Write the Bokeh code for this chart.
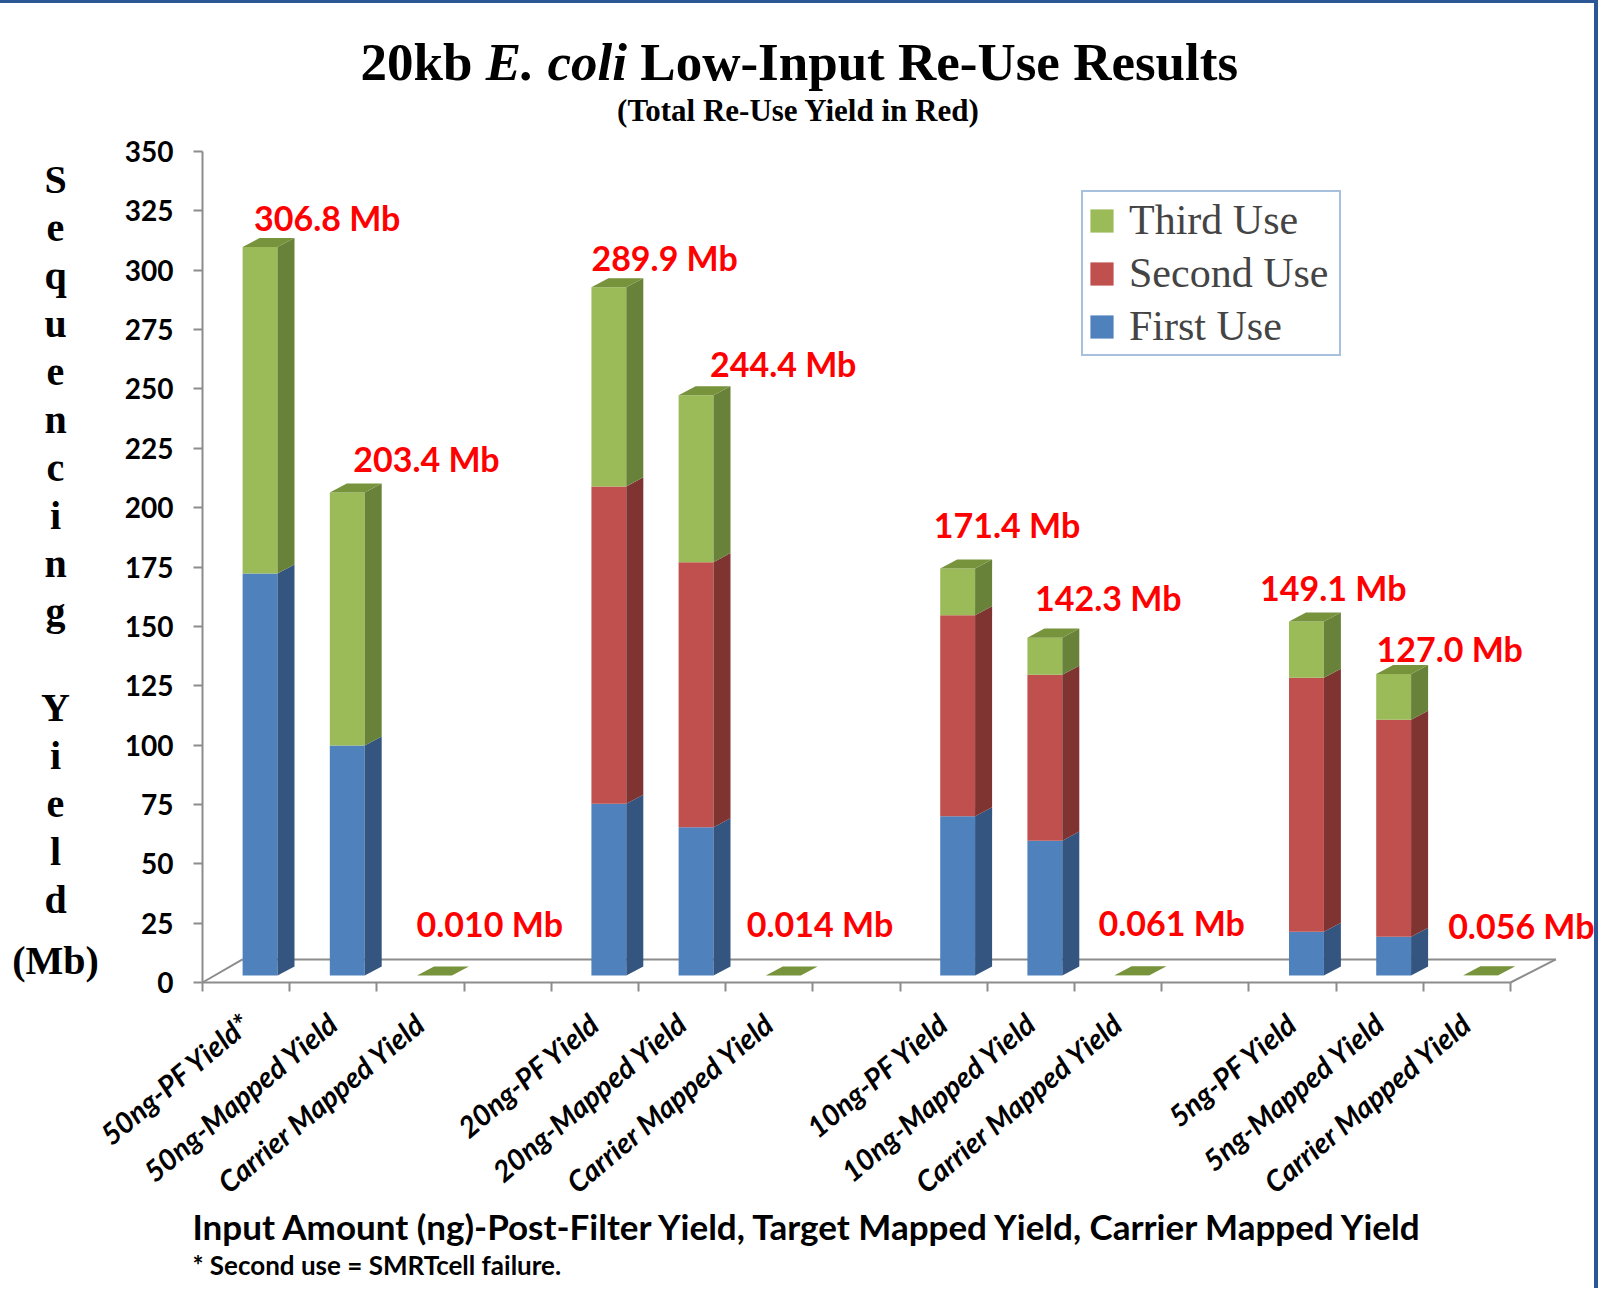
from bokeh.plotting import figure
from bokeh.models import (Range1d, FixedTicker, Label, LabelSet, ColumnDataSource,
                          Legend, LegendItem, LinearAxis)
from bokeh.core.properties import value
from bokeh.embed import file_html
from bokeh.resources import INLINE

# ---------------- data ----------------
categories = ["50ng-PF Yield*", "50ng-Mapped Yield", "Carrier Mapped Yield",
              "20ng-PF Yield", "20ng-Mapped Yield", "Carrier Mapped Yield",
              "10ng-PF Yield", "10ng-Mapped Yield", "Carrier Mapped Yield",
              "5ng-PF Yield", "5ng-Mapped Yield", "Carrier Mapped Yield"]
first_use = [169.3, 96.9, 0.0, 72.3, 62.4, 0.0, 67.1, 56.8, 0.0, 18.4, 16.3, 0.0]
second_use = [0.0, 0.0, 0.0, 133.7, 111.7, 0.0, 84.6, 69.9, 0.0, 107.0, 91.4, 0.0]
total_yield = [306.8, 203.4, 0.010, 289.9, 244.4, 0.014, 171.4, 142.3, 0.061, 149.1, 127.0, 0.056]
total_labels = ["306.8 Mb", "203.4 Mb", "0.010 Mb", "289.9 Mb", "244.4 Mb", "0.014 Mb",
                "171.4 Mb", "142.3 Mb", "0.061 Mb", "149.1 Mb", "127.0 Mb", "0.056 Mb"]
y_ticks = [0, 25, 50, 75, 100, 125, 150, 175, 200, 225, 250, 275, 300, 325, 350]
series_names = ["First Use", "Second Use", "Third Use"]

title_parts = ["20kb", "E. coli", "Low-Input Re-Use Results"]
subtitle = "(Total Re-Use Yield in Red)"
ylabel_lines = ["S", "e", "q", "u", "e", "n", "c", "i", "n", "g", "",
                "Y", "i", "e", "l", "d", "(Mb)"]
xlabel = "Input Amount (ng)-Post-Filter Yield, Target Mapped Yield, Carrier Mapped Yield"
footnote = "* Second use = SMRTcell failure."

third_use = [round(t - f - s, 3) for t, f, s in zip(total_yield, first_use, second_use)]

# ---------------- layout ----------------
W, H = 1598, 1288
TOPB = 3                      # css top border height
X0, Y0 = 202.0, 982.0         # page pixel of data (0, 0)
PX = 87.2                     # px per x unit
PY = 831.0 / 350.0            # px per y unit


def dxp(px):
    return (px - X0) / PX


def dyp(py):
    return (Y0 - py) / PY


n = len(categories)
slot_center = [i + i // 3 + 0.5 for i in range(n)]
boundaries = list(range(16))

LIFT, DX, DY, OFF, BW = 2.95, 0.195, 3.8, 0.16, 0.40
xc = [c + OFF for c in slot_center]

label_dx = [0.091, 0.229, -0.045, -0.040, 0.320, -0.258, -0.113, 0.048, -0.225, -0.372, -0.037, -0.215]
label_dy = [15.5, 17.2, 24.8, 15.6, 16.3, 24.8, 21.6, 19.7, 25.2, 17.2, 13.8, 23.9]

GRAY = "#8C8C8C"
front_col = {"First Use": "#4F81BD", "Second Use": "#C0504D", "Third Use": "#9BBB59"}
side_col = {"First Use": "#34557F", "Second Use": "#7F3432", "Third Use": "#68823A"}
TOP_COL = "#77933C"

p = figure(width=W, height=H,
           x_range=Range1d(dxp(0), dxp(W)),
           y_range=Range1d(dyp(TOPB + H), dyp(TOPB)),
           x_axis_location=None, y_axis_location=None,
           output_backend="svg", toolbar_location=None, min_border=0)
p.title.visible = False
p.xgrid.visible = False
p.ygrid.visible = False
p.outline_line_color = None
p.background_fill_color = "white"
p.border_fill_color = "white"
p.styles = {"border-top": "3px solid #2B5797", "border-right": "4px solid #2B5797"}

# floor
p.line([0.459, 15.52], [9.7, 9.7], line_color=GRAY, line_width=2)
p.line([0, 0.459], [0, 9.7], line_color=GRAY, line_width=2)
p.line([15, 15.52], [0, 9.7], line_color=GRAY, line_width=2)

# bars
renderers = {}
bottom = [LIFT] * n
for name, vals in zip(series_names, [first_use, second_use, third_use]):
    top = [b + v for b, v in zip(bottom, vals)]
    src = ColumnDataSource(dict(x=xc, bottom=bottom, top=top))
    r = p.vbar(x="x", bottom="bottom", top="top", width=BW, source=src,
               fill_color=front_col[name], line_color=None)
    renderers[name] = r
    idx = [i for i in range(n) if vals[i] >= 1.0]
    sxs = [[xc[i] + BW / 2, xc[i] + BW / 2 + DX, xc[i] + BW / 2 + DX, xc[i] + BW / 2] for i in idx]
    sys = [[bottom[i], bottom[i] + DY, top[i] + DY, top[i]] for i in idx]
    p.patches(sxs, sys, fill_color=side_col[name], line_color=None)
    bottom = top

txs = [[x - BW / 2, x + BW / 2, x + BW / 2 + DX, x - BW / 2 + DX] for x in xc]
tys = [[t, t, t + DY, t + DY] for t in bottom]
p.patches(txs, tys, fill_color=TOP_COL, line_color=None)

# total labels
lab_src = ColumnDataSource(dict(
    x=[c + d for c, d in zip(slot_center, label_dx)],
    y=[t + d for t, d in zip(total_yield, label_dy)],
    text=total_labels))
p.add_layout(LabelSet(x="x", y="y", text="text", source=lab_src, text_color="#FF0000",
                      text_font=value("Lato"), text_font_style="bold",
                      text_font_size="34px", text_baseline="middle", text_align="left"))

# axes (fixed at the data origin)
xa = LinearAxis(fixed_location=0, bounds=(0, 15),
                ticker=FixedTicker(ticks=slot_center, minor_ticks=boundaries))
xa.major_label_overrides = {c: lab for c, lab in zip(slot_center, categories)}
xa.major_label_orientation = 0.70
xa.major_label_text_font = "Lato"
xa.major_label_text_font_style = "bold italic"
xa.major_label_text_font_size = "29px"
xa.major_label_text_color = "black"
xa.major_label_standoff = 27
xa.major_tick_line_color = None
xa.major_tick_out = 0
xa.major_tick_in = 0
xa.minor_tick_line_color = GRAY
xa.minor_tick_line_width = 2
xa.minor_tick_out = 9
xa.minor_tick_in = 0
xa.axis_line_color = GRAY
xa.axis_line_width = 2
p.add_layout(xa, "below")

ya = LinearAxis(fixed_location=0, bounds=(0, 350), ticker=FixedTicker(ticks=y_ticks))
ya.major_label_text_font = "Lato"
ya.major_label_text_font_style = "bold"
ya.major_label_text_font_size = "28px"
ya.major_label_text_color = "black"
ya.major_label_standoff = 20
ya.major_tick_out = 9
ya.major_tick_in = 0
ya.major_tick_line_color = GRAY
ya.major_tick_line_width = 2
ya.minor_tick_line_color = None
ya.axis_line_color = GRAY
ya.axis_line_width = 2
p.add_layout(ya, "left")

# legend
LEG_H = 164
legend = Legend(items=[LegendItem(label=nm, renderers=[renderers[nm]])
                       for nm in reversed(series_names)],
                location=(1081, H - (192 - TOPB) - LEG_H))
legend.border_line_color = "#4F81BD"
legend.border_line_width = 2
legend.background_fill_color = "white"
legend.background_fill_alpha = 1
legend.label_text_font = "Liberation Serif"
legend.label_text_font_size = "42px"
legend.label_width = 206
legend.glyph_width = 29
legend.glyph_height = 29
legend.label_standoff = 13
legend.padding = 4
legend.spacing = 5
legend.margin = 0
p.add_layout(legend)


def page_label(text, x_page, y_page, **kw):
    return Label(x=dxp(x_page), y=dyp(y_page), text=text, text_baseline="middle", **kw)


serif = dict(text_font="Liberation Serif", text_color="black")
# title (mixed upright / italic)
TS = 53
x0 = 360
p.add_layout(page_label(title_parts[0], x0, 61, text_font_style="bold",
                        text_font_size=f"{TS}px", text_align="left", **serif))
x1 = x0 + 2.362 * TS
p.add_layout(page_label(title_parts[1], x1, 61, text_font_style="bold italic",
                        text_font_size=f"{TS}px", text_align="left", **serif))
x2 = x1 + 2.917 * TS
p.add_layout(page_label(title_parts[2], x2, 61, text_font_style="bold",
                        text_font_size=f"{TS}px", text_align="left", **serif))
p.add_layout(page_label(subtitle, 798, 110, text_font_style="bold",
                        text_font_size="31px", text_align="center", **serif))

# stacked y-axis title
for i, ch in enumerate(ylabel_lines):
    if ch:
        extra = 13 if ch.startswith("(") else 0
        p.add_layout(page_label(ch, 55, 179 + 48 * i + extra, text_font_style="bold",
                                text_font_size="40px", text_align="center", **serif))

# x title + footnote
p.add_layout(page_label(xlabel, 192, 1225, text_font="Lato", text_font_style="bold",
                        text_font_size="35px", text_align="left", text_color="black"))
p.add_layout(page_label(footnote, 192, 1264, text_font="Lato", text_font_style="bold",
                        text_font_size="26px", text_align="left", text_color="black"))

open("out.html", "w").write(file_html(p, INLINE))
